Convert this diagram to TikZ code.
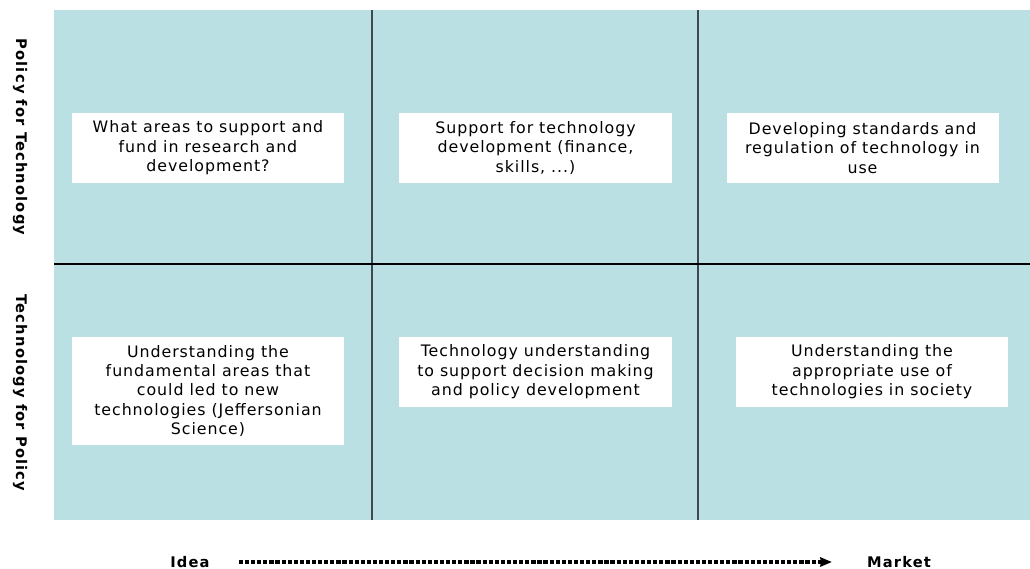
\documentclass[tikz,border=0pt]{standalone}
\usepackage{fontspec}
\setmainfont{DejaVu Sans}
\usetikzlibrary{arrows.meta}
\definecolor{cellbg}{HTML}{BBE0E3}
\definecolor{gridline}{HTML}{3E4A4E}

\begin{document}
\begin{tikzpicture}[
                x=0.03cm, y=-0.03cm,% one unit is one pixel of the sheet
                cell/.style={fill=white, align=center, inner sep=0pt,
                    minimum width=8.16cm, minimum height=2.1cm,
                    font=\fontsize{13.5}{16.6}\selectfont\addfontfeatures{LetterSpace=6}},
                rowlabel/.style={rotate=-90,
                    font=\bfseries\fontsize{12.5}{14}\selectfont\addfontfeatures{LetterSpace=8}},
                axislabel/.style={inner sep=0pt,
                    font=\bfseries\fontsize{12.5}{14}\selectfont\addfontfeatures{LetterSpace=8}}
            ]

                \useasboundingbox (0,0) rectangle (1030,569);

                % the six cells
                \fill[cellbg] (54,10) rectangle (1030,520);
                \draw[gridline, line width=1pt]
                    (372,10)--(372,520)
                    (698,10)--(698,520);
                \draw[line width=1.1pt] (54,264)--(1030,264);

                \node[rowlabel] (pft) at (20,137) {Policy for Technology};
                \node[rowlabel] (tfp) at (20,393) {Technology for Policy};

                % policy for technology
                \node[cell] (fund) at (208,148)
                    {What areas to support and\\fund in research and\\development?};
                \node[cell] (support) at (535.5,148)
                    {Support for technology\\development (finance,\\skills, ...)};
                \node[cell] (standards) at (862.5,148)
                    {Developing standards and\\regulation of technology in\\use};

                % technology for policy
                \node[cell, minimum height=3.24cm] (science) at (208,391)
                    {Understanding the\\fundamental areas that\\could led to new\\technologies (Jeffersonian\\Science)};
                \node[cell] (decision) at (535.5,372)
                    {Technology understanding\\to support decision making\\and policy development};
                \node[cell] (society) at (872,372)
                    {Understanding the\\appropriate use of\\technologies in society};

                % idea to market
                \node[axislabel] (idea) at (190,562) {Idea};
                \node[axislabel] (market) at (899,562) {Market};
                \draw[line width=2.6pt, dash pattern=on 3.6pt off 1.6pt,
                      -{Stealth[length=10pt, width=8pt, inset=1pt]},
                      shorten <=0.87cm, shorten >=1.05cm]
                    (idea.east)--(market.west);

            \end{tikzpicture}
\end{document}
